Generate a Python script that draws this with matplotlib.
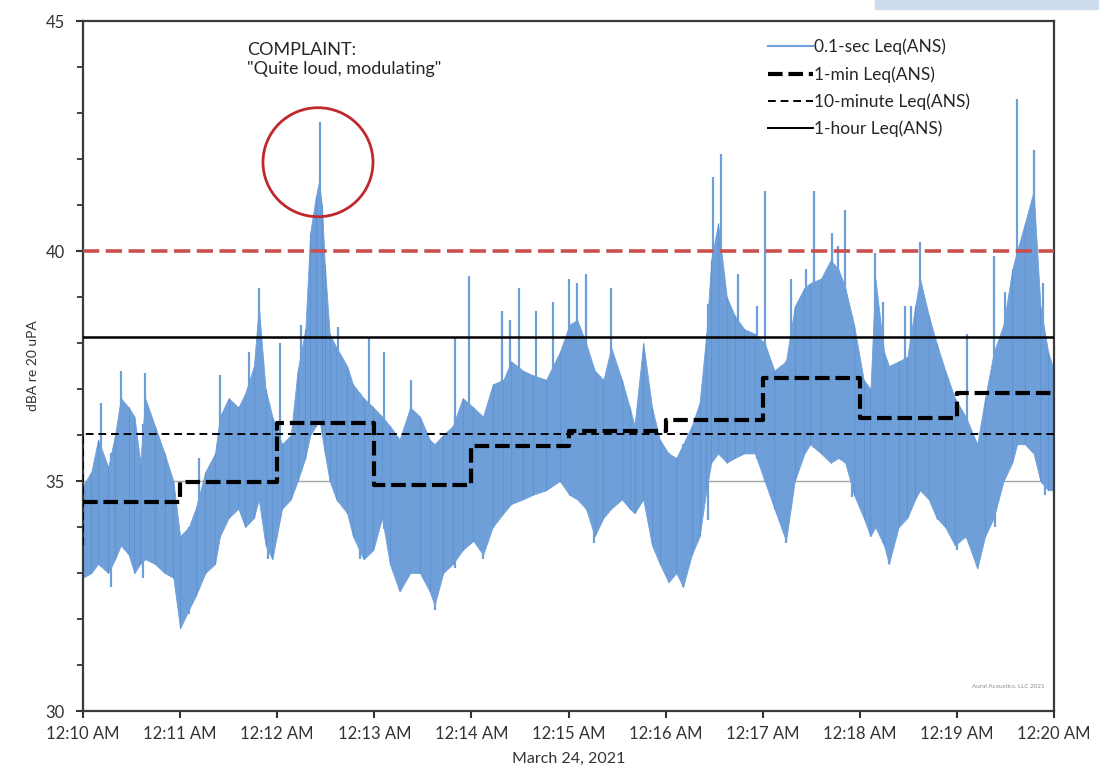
import numpy as np
import matplotlib
matplotlib.use("Agg")
import matplotlib.pyplot as plt
from matplotlib.lines import Line2D
from matplotlib.patches import Ellipse, Rectangle

plt.rcParams['font.family'] = ['Lato', 'DejaVu Sans']

# ---------------- data (minutes after 12:10 AM, dBA) ----------------
t_env = [0.00, 0.086, 0.155, 0.26, 0.33, 0.39, 0.47, 0.53, 0.59, 0.64, 0.74, 0.84, 0.93, 1.00, 1.09,
         1.16, 1.26, 1.36, 1.41, 1.50, 1.60, 1.67, 1.76, 1.81, 1.88, 1.95, 2.05, 2.14, 2.21, 2.29,
         2.34, 2.40, 2.43, 2.46, 2.49, 2.54, 2.61, 2.72, 2.78, 2.89, 2.99, 3.08, 3.16, 3.26, 3.37,
         3.47, 3.57, 3.62, 3.71, 3.81, 3.91, 4.02, 4.12, 4.22, 4.33, 4.41, 4.53, 4.63, 4.77, 4.91,
         5.01, 5.09, 5.18, 5.27, 5.36, 5.44, 5.55, 5.63, 5.68, 5.77, 5.86, 5.94, 6.03, 6.11, 6.18,
         6.27, 6.35, 6.42, 6.47, 6.54, 6.63, 6.71, 6.81, 6.92, 7.02, 7.12, 7.24, 7.33, 7.43, 7.49,
         7.60, 7.70, 7.78, 7.85, 7.94, 8.04, 8.11, 8.16, 8.25, 8.30, 8.40, 8.49, 8.57, 8.62, 8.71,
         8.79, 8.88, 8.98, 9.09, 9.21, 9.29, 9.38, 9.48, 9.57, 9.62, 9.70, 9.79, 9.86, 9.94, 10.0]
hi_env = [34.9, 35.2, 35.9, 35.3, 36.0, 36.8, 36.6, 36.4, 35.4, 36.8, 36.2, 35.6, 35.0, 33.8, 34.0,
          34.4, 35.2, 35.6, 36.4, 36.8, 36.6, 36.9, 37.5, 38.8, 37.0, 36.4, 35.8, 36.0, 37.4, 38.3,
          40.4, 41.2, 41.5, 41.0, 39.7, 38.2, 37.9, 37.5, 37.1, 36.8, 36.6, 36.4, 36.2, 35.9, 36.6,
          36.4, 35.9, 35.8, 36.0, 36.2, 36.8, 36.6, 36.4, 37.1, 37.2, 37.6, 37.4, 37.3, 37.2, 37.8,
          38.4, 38.5, 38.0, 37.4, 37.2, 37.9, 37.2, 36.6, 36.2, 38.0, 36.6, 35.9, 35.6, 35.5, 35.8,
          36.2, 36.7, 38.2, 39.8, 40.6, 39.0, 38.6, 38.3, 38.2, 38.0, 37.4, 37.6, 38.8, 39.2, 39.3,
          39.4, 39.8, 39.6, 39.2, 38.4, 37.2, 37.0, 39.4, 37.8, 37.5, 37.6, 37.7, 38.8, 39.4, 38.6,
          38.0, 37.4, 36.8, 36.4, 35.8, 36.8, 37.8, 38.4, 39.6, 40.0, 40.6, 41.3, 38.8, 37.8, 37.4]
lo_env = [32.9, 33.0, 33.2, 33.0, 33.3, 33.6, 33.4, 33.0, 33.2, 33.3, 33.2, 33.0, 32.9, 31.8, 32.2,
          32.5, 33.0, 33.2, 33.8, 34.2, 34.4, 34.0, 34.2, 34.6, 33.6, 33.3, 34.4, 34.6, 35.0, 35.5,
          36.0, 36.2, 36.4, 36.0, 35.6, 35.0, 34.6, 34.3, 33.8, 33.3, 33.5, 34.2, 33.2, 32.6, 33.0,
          33.0, 32.6, 32.3, 33.0, 33.2, 33.5, 33.7, 33.4, 34.0, 34.3, 34.5, 34.6, 34.7, 34.8, 35.0,
          34.7, 34.6, 34.4, 33.8, 34.2, 34.4, 34.6, 34.4, 34.3, 34.6, 33.6, 33.2, 32.8, 33.0, 32.7,
          33.4, 33.8, 34.8, 35.4, 35.6, 35.4, 35.5, 35.6, 35.6, 35.0, 34.4, 33.7, 35.0, 35.6, 35.8,
          35.6, 35.4, 35.5, 35.4, 34.7, 34.2, 33.8, 34.0, 33.6, 33.2, 34.0, 34.2, 34.6, 34.8, 34.6,
          34.2, 34.0, 33.6, 33.8, 33.1, 33.8, 34.2, 35.0, 35.4, 35.8, 35.8, 35.6, 35.0, 34.8, 34.8]

# isolated upward spikes of the 0.1-sec series
spike_t = [0.19, 0.39, 0.64, 1.19, 1.41, 1.71, 1.81, 2.03, 2.24, 2.44, 2.63, 2.95, 3.10, 3.38, 3.83,
           3.98, 4.31, 4.40, 4.49, 4.67, 4.84, 5.00, 5.09, 5.18, 5.44, 6.49, 6.57, 6.75, 6.94, 7.02,
           7.29, 7.45, 7.53, 7.71, 7.78, 7.85, 8.16, 8.24, 8.47, 8.53, 8.62, 9.10, 9.38, 9.50, 9.62,
           9.79, 9.89]
spike_v = [36.7, 37.4, 37.35, 35.5, 37.3, 37.8, 39.2, 38.0, 38.4, 42.8, 38.35, 38.1, 37.8, 37.2, 38.1,
           39.45, 38.7, 38.5, 39.2, 38.7, 38.9, 39.4, 39.3, 39.5, 39.2, 41.6, 42.1, 39.5, 38.8, 41.3,
           39.4, 39.6, 41.3, 40.4, 40.1, 40.9, 39.95, 38.9, 38.8, 38.8, 40.2, 38.2, 39.9, 39.1, 43.3,
           42.2, 39.3]
# isolated downward dips of the 0.1-sec series
dip_t = [0.29, 0.62, 1.09, 1.91, 2.85, 3.26, 3.62, 3.83, 4.12, 5.26, 6.03, 6.18, 6.44, 7.24, 7.92,
         8.30, 8.81, 9.00, 9.21, 9.39, 9.91]
dip_v = [32.7, 32.9, 32.1, 33.3, 33.3, 32.6, 32.2, 33.1, 33.3, 33.65, 32.8, 32.7, 34.15, 33.65, 34.65,
         33.2, 34.15, 33.5, 33.15, 34.0, 34.7]

min_edges = [0, 1, 2, 3, 4, 5, 6, 7, 8, 9, 10]
leq_1min = [34.55, 34.97, 36.27, 34.92, 35.77, 36.08, 36.33, 37.23, 36.36, 36.92]
leq_10min = 36.02
leq_10min_prev = 33.6
leq_1hour = 38.12
criterion = 40.0

xtick_labels = ['12:10 AM', '12:11 AM', '12:12 AM', '12:13 AM', '12:14 AM', '12:15 AM',
                '12:16 AM', '12:17 AM', '12:18 AM', '12:19 AM', '12:20 AM']
legend_labels = ['0.1-sec Leq(ANS)', '1-min Leq(ANS)', '10-minute Leq(ANS)', '1-hour Leq(ANS)']

# ---------------- figure ----------------
W, H = 1099, 776
fig = plt.figure(figsize=(W / 100, H / 100), dpi=100)
fig.patches.append(Rectangle((875 / W, 1 - 9 / H), 1 - 875 / W, 9 / H,
                             transform=fig.transFigure, color='#cfdcee', zorder=0))
ax = fig.add_axes([83 / W, 1 - 711 / H, (1054 - 83) / W, (711 - 21) / H])

blue = '#6e9fd9'
streak = '#5f93d2'
ax.axhline(35, color='#a6a6a6', lw=1.0, zorder=1)
ax.fill_between(t_env, lo_env, hi_env, color=blue, lw=0.6, edgecolor=blue, zorder=2)
ax.vlines(t_env, lo_env, hi_env, color=streak, lw=0.8, zorder=2)
spike_base = np.interp(spike_t, t_env, lo_env)
ax.vlines(spike_t, spike_base, spike_v, color=blue, lw=1.6, zorder=2)
dip_top = np.interp(dip_t, t_env, hi_env)
ax.vlines(dip_t, dip_v, dip_top, color=blue, lw=1.6, zorder=2)

# reference lines
ax.axhline(criterion, color='#c9504f', lw=2.6, dashes=(4.5, 1.8), zorder=3)
ax.axhline(leq_1hour, color='black', lw=1.8, zorder=4)
ax.plot([0, 0, 10], [leq_10min_prev, leq_10min, leq_10min], color='black', lw=1.4,
        dashes=(4, 2.5), zorder=4)
ax.step(min_edges, leq_1min + [leq_1min[-1]], where='post', color='black', lw=3.0,
        dashes=(3.5, 1.4), zorder=5)

# complaint annotation
ax.add_patch(Ellipse((2.42, 41.93), 1.133, 2.37, fill=False, edgecolor='#c0282d', lw=2.0, zorder=6))
ax.text(1.69, 44.55, 'COMPLAINT:\n"Quite loud, modulating"', fontsize=13, color='#262626',
        va='top', ha='left', linespacing=1.25)
ax.text(9.9, 30.55, 'Aural Acoustics, LLC 2021', fontsize=4.5, color='#8c8c8c', ha='right', va='center')

# axes styling
ax.set_xlim(0, 10)
ax.set_ylim(30, 45)
ax.set_xticks(range(11))
ax.set_xticklabels(xtick_labels)
ax.set_yticks([30, 35, 40, 45])
ax.set_yticks(np.arange(30, 46, 1), minor=True)
ax.tick_params(axis='x', direction='out', length=5, width=1.5, labelsize=12, colors='#333333', pad=6)
ax.tick_params(axis='y', which='major', direction='out', length=5, width=1.5, labelsize=12,
               colors='#333333', pad=8)
ax.tick_params(axis='y', which='minor', direction='out', length=4, width=1.3, colors='#333333')
for s in ax.spines.values():
    s.set_color('#3a3a3a')
    s.set_linewidth(1.6)
ax.set_ylabel('dBA re 20 uPA', fontsize=10, color='#333333', labelpad=5)
ax.set_xlabel('March 24, 2021', fontsize=11.5, color='#333333', labelpad=7)

handles = [Line2D([], [], color=blue, lw=1.5),
           Line2D([], [], color='black', lw=3.0, dashes=(3.5, 1.4)),
           Line2D([], [], color='black', lw=1.4, dashes=(4, 2.5)),
           Line2D([], [], color='black', lw=1.4)]
leg = ax.legend(handles, legend_labels, loc='upper right', bbox_to_anchor=(0.93, 0.997), frameon=False,
                fontsize=12.5, handlelength=2.6, handletextpad=0.1, labelspacing=0.62)
for txt in leg.get_texts():
    txt.set_color('#262626')

fig.savefig('out.png', dpi=100)
